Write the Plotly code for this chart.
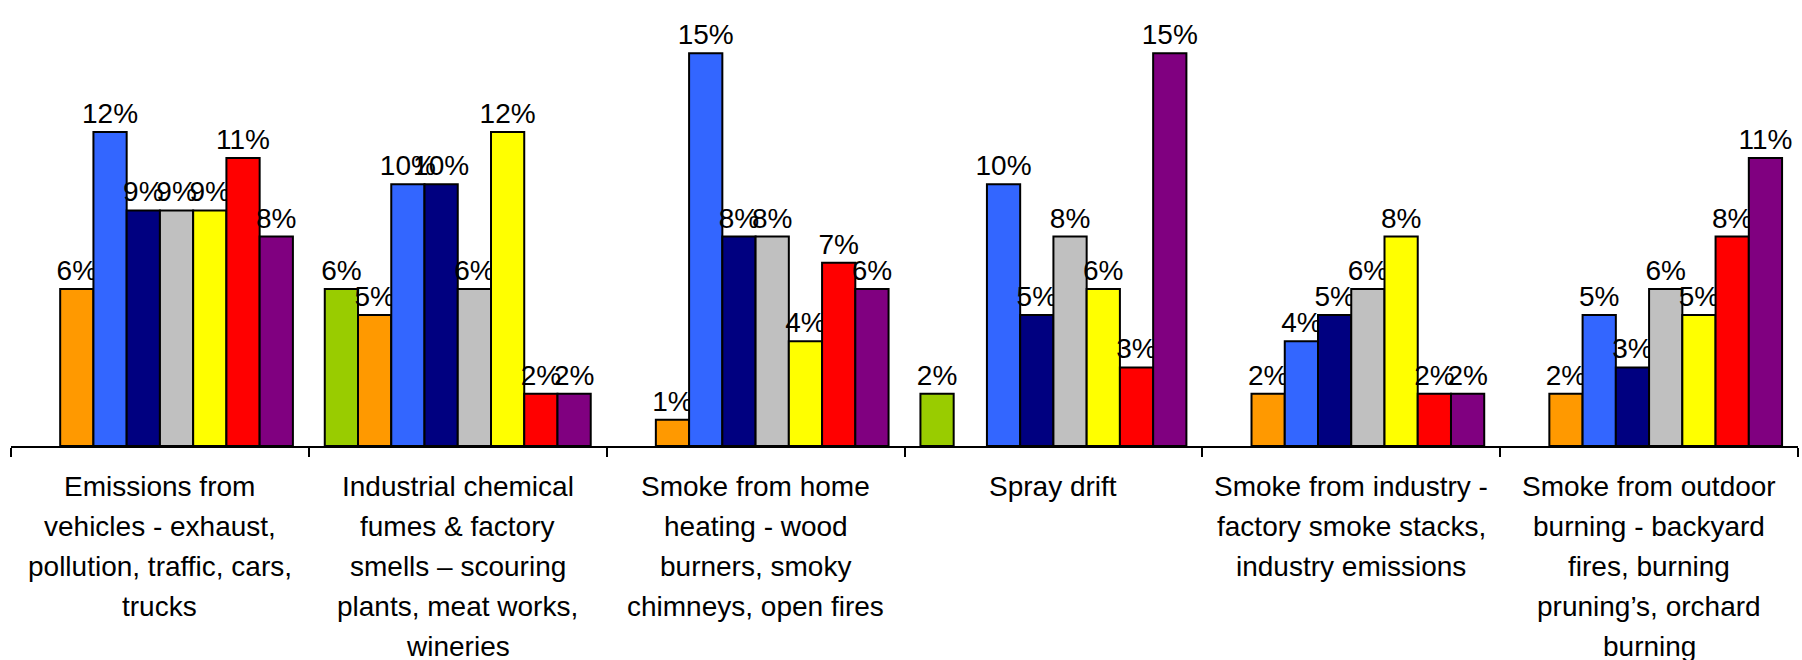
import plotly.graph_objects as go

categories = [
    "Emissions from vehicles - exhaust, pollution, traffic, cars, trucks",
    "Industrial chemical fumes & factory smells – scouring plants, meat works, wineries",
    "Smoke from home heating - wood burners, smoky chimneys, open fires",
    "Spray drift",
    "Smoke from industry - factory smoke stacks, industry emissions",
    "Smoke from outdoor burning - backyard fires, burning pruning’s, orchard burning",
]
label_lines = [
    ["Emissions from", "vehicles - exhaust,", "pollution, traffic, cars,", "trucks"],
    ["Industrial chemical", "fumes & factory", "smells – scouring", "plants, meat works,", "wineries"],
    ["Smoke from home", "heating - wood", "burners, smoky", "chimneys, open fires"],
    ["Spray drift"],
    ["Smoke from industry -", "factory smoke stacks,", "industry emissions"],
    ["Smoke from outdoor", "burning - backyard", "fires, burning", "pruning’s, orchard", "burning"],
]

series_names = ["S1", "S2", "S3", "S4", "S5", "S6", "S7", "S8"]
series_colors = ["#99CC00", "#FF9900", "#3366FF", "#000080", "#C0C0C0", "#FFFF00", "#FF0000", "#800080"]

s1 = [None, 6, None, 2, None, None]
s2 = [6, 5, 1, None, 2, 2]
s3 = [12, 10, 15, 10, 4, 5]
s4 = [9, 10, 8, 5, 5, 3]
s5 = [9, 6, 8, 8, 6, 6]
s6 = [9, 12, 4, 6, 8, 5]
s7 = [11, 2, 7, 3, 2, 8]
s8 = [8, 2, 6, 15, 2, 11]
series_values = [s1, s2, s3, s4, s5, s6, s7, s8]

FONT = "Liberation Sans, Arial, sans-serif"

fig = go.Figure()
for name, color, vals in zip(series_names, series_colors, series_values):
    fig.add_trace(go.Bar(
        x=categories, y=vals, name=name,
        marker=dict(color=color, line=dict(color="black", width=2)),
        text=[f"{v}%" if v is not None else "" for v in vals],
        textposition="outside",
        textfont=dict(family=FONT, size=28, color="black"),
        constraintext="none",
        cliponaxis=False,
    ))

annotations = []
for cat, lines in zip(categories, label_lines):
    for i, line in enumerate(lines):
        annotations.append(dict(
            x=cat, xref="x", y=0, yref="paper",
            text=line, showarrow=False,
            xanchor="center", yanchor="middle",
            yshift=-40 - 40 * i,
            font=dict(family=FONT, size=28, color="black"),
        ))

fig.update_layout(
    width=1802, height=660,
    margin=dict(l=11, r=4, t=1, b=214),
    paper_bgcolor="white", plot_bgcolor="white",
    barmode="group", bargap=0.107, bargroupgap=0,
    showlegend=False,
    annotations=annotations,
    xaxis=dict(
        type="category", showticklabels=False, showgrid=False,
        showline=True, linecolor="black", linewidth=2,
        ticks="outside", tickson="boundaries", ticklen=9, tickwidth=2, tickcolor="black",
        zeroline=False,
    ),
    yaxis=dict(visible=False, range=[0, 17], showgrid=False, zeroline=False),
)

fig.write_html(
    "out.html",
    config={"displayModeBar": False},
    post_script="document.body.style.margin='0';document.body.style.overflow='hidden';",
)
